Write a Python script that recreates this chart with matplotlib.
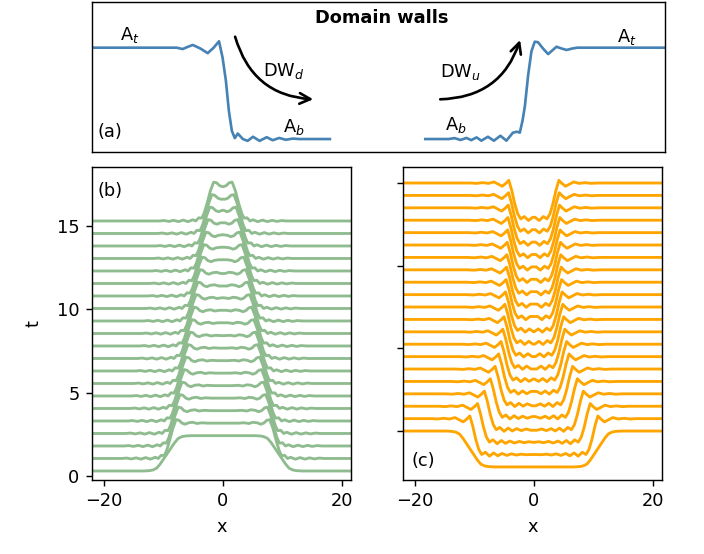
import matplotlib.pyplot as plt
from matplotlib.patches import FancyArrowPatch
import numpy as np

# ---------------- panel (a): the two fronts ----------------
# offset from the wall centre (x units) and level (0 = A_b, 1 = A_t)
dwd_off = [-10.0, -8.5, -7.5, -6.6, -5.8, -4.5, -3.3, -2.3, -1.4, -0.8, -0.25, 0.25,
           0.75, 1.25, 1.75, 2.6, 3.4, 4.3, 5.4, 6.6, 7.6, 8.7, 9.8, 11.0, 12.0]
dwd_val = [1.0, 1.0, 0.985, 1.01, 1.03, 0.99, 0.94, 1.0, 1.07, 0.89, 0.64, 0.31,
           0.09, 0.01, 0.06, 0.0, -0.02, 0.025, -0.02, 0.02, -0.013, 0.012, -0.008, 0.005, 0.0]
dwu_off = [-13.0, -12.0, -11.0, -10.0, -9.2, -8.3, -7.5, -6.4, -5.4, -4.3, -3.3, -2.2,
           -1.5, -1.05, -0.6, -0.2, 0.35, 0.9, 1.45, 2.0, 2.85, 3.7, 4.4, 5.1, 6.0,
           6.8, 7.7, 8.6, 10.0]
dwu_val = [0.0, 0.01, -0.01, 0.012, -0.012, 0.018, -0.018, 0.025, -0.018, 0.036, -0.018, 0.07,
           0.08, 0.07, 0.2, 0.36, 0.70, 0.96, 1.065, 1.06, 0.99, 0.93, 0.97, 1.01, 0.99,
           0.975, 0.99, 1.0, 1.0]
a_xmax = 96.1
dwd_pos, dwd_end = 22.7, 39.9
dwu_start, dwu_pos = 55.9, 72.8

# ---------------- panels (b) and (c) ----------------
# initial (t = 0) wall, 0 = outside level, 1 = inside level
smooth_off = [-4.0, -3.0, -2.4, -1.8, -1.2, -0.6, 0.0, 0.6, 1.2, 1.8, 2.4, 3.0, 4.0]
smooth_val = [0.0, 0.01, 0.03, 0.08, 0.2, 0.35, 0.5, 0.65, 0.8, 0.92, 0.97, 0.99, 1.0]

# green wall (low outside -> high inside), offset positive inward
b_off = [-8.0, -7.2, -6.4, -5.6, -4.8, -4.0, -3.2, -2.4, -1.9, -1.4, -0.9, -0.5, 0.0,
         0.55, 1.1, 1.6, 2.1, 2.6, 3.2, 3.9, 4.6, 5.4, 6.4]
b_val = [0.0, 0.012, -0.012, 0.018, -0.018, 0.025, -0.02, 0.035, 0.0, 0.09, 0.08, 0.22, 0.5,
         0.85, 1.1, 1.08, 1.0, 0.97, 1.01, 1.025, 0.99, 1.01, 1.0]

# orange wall (1 = outside level), offset positive inward
c_off = [-7.5, -6.4, -5.4, -4.4, -3.5, -2.8, -2.1, -1.5, -1.0, -0.5, 0.0, 0.5, 1.0,
         1.6, 2.3, 3.0, 3.7, 4.4, 5.2, 6.0, 6.8, 7.6, 8.4, 9.3]
c_val = [1.0, 0.99, 1.01, 0.99, 1.03, 0.97, 0.91, 0.99, 1.075, 0.79, 0.42, 0.14, 0.0,
         0.065, -0.045, 0.045, -0.035, 0.03, -0.025, 0.02, -0.015, 0.01, -0.005, 0.0]

t_step = 0.75
b_base, b_jump = 0.3, 2.12
c_jump = 2.17
# half distance between the two walls for each time step
b_wall = [9.3, 8.95, 8.6, 8.3, 7.95, 7.6, 7.3, 6.95, 6.6, 6.3, 5.95, 5.6, 5.3,
          4.95, 4.6, 4.3, 3.95, 3.6, 3.3, 2.95, 2.65]
c_wall = [10.7, 9.74, 8.45, 7.3, 6.3, 5.5, 4.9, 4.5, 4.2, 4.0, 3.85, 3.75, 3.65,
          3.58, 3.52, 3.46, 3.4, 3.35, 3.3, 3.25, 3.2]

XMIN = -22.5


def sym_curve(off, val, w):
    """left wall at -w, mirrored about x = 0"""
    x = -w + np.asarray(off, dtype=float)
    v = np.asarray(val, dtype=float)
    keep = x < 0
    x = np.concatenate([[XMIN], x[keep]])
    v = np.concatenate([[val[0]], v[keep]])
    return np.concatenate([x, -x[::-1]]), np.concatenate([v, v[::-1]])


def main():
    fig = plt.figure(figsize=(5.5, 4.328125), dpi=128)
    plt.rcParams['font.size'] = 10

    # (a)
    ax = fig.add_axes([0.1307, 0.7256, 0.8139, 0.2708])
    xl = np.concatenate([[0.0], dwd_pos + np.asarray(dwd_off), [dwd_end]])
    yl = np.concatenate([[1.0], dwd_val, [0.0]])
    xr = np.concatenate([[dwu_start], dwu_pos + np.asarray(dwu_off), [a_xmax]])
    yr = np.concatenate([[0.0], dwu_val, [1.0]])
    ax.plot(xl, yl, color='steelblue', lw=1.5)
    ax.plot(xr, yr, color='steelblue', lw=1.5)
    ax.set_xlim(0, a_xmax)
    ax.set_ylim(-0.142, 1.50)
    ax.set_xticks([])
    ax.set_yticks([])
    ax.text(0.506, 0.893, 'Domain walls', transform=ax.transAxes, ha='center',
            va='center', fontweight='bold')
    ax.text(0.009, 0.133, '(a)', transform=ax.transAxes, ha='left', va='center')
    ax.text(4.7, 1.084, 'A$_t$', ha='left', va='baseline')
    ax.text(28.7, 0.69, 'DW$_d$', ha='left', va='baseline')
    ax.text(32.0, 0.08, 'A$_b$', ha='left', va='baseline')
    ax.text(58.4, 0.68, 'DW$_u$', ha='left', va='baseline')
    ax.text(59.2, 0.1, 'A$_b$', ha='left', va='baseline')
    ax.text(88.1, 1.066, 'A$_t$', ha='left', va='baseline')
    ax.add_patch(FancyArrowPatch((24.0, 1.12), (37.1, 0.435), arrowstyle='->',
                                 connectionstyle='arc3,rad=0.35', mutation_scale=15,
                                 lw=1.5, color='k', shrinkA=0, shrinkB=0))
    ax.add_patch(FancyArrowPatch((58.4, 0.435), (71.8, 1.084), arrowstyle='->',
                                 connectionstyle='arc3,rad=0.35', mutation_scale=15,
                                 lw=1.5, color='k', shrinkA=0, shrinkB=0))

    # (b)
    axb = fig.add_axes([0.1307, 0.1336, 0.368, 0.565])
    for i, w in enumerate(b_wall):
        t = t_step * i
        if i == 0:
            x, v = sym_curve(smooth_off, smooth_val, w)
        else:
            x, v = sym_curve(b_off, b_val, w)
        axb.plot(x, t + b_base + b_jump * v, color='darkseagreen', lw=1.6)
    axb.set_xlim(-21.95, 21.5)
    axb.set_ylim(-0.24, 18.54)
    axb.set_xticks([-20, 0, 20])
    axb.set_yticks([0, 5, 10, 15])
    axb.set_xlabel('x')
    axb.set_ylabel('t', labelpad=8)
    axb.text(0.023, 0.922, '(b)', transform=axb.transAxes, ha='left', va='center')

    # (c)
    axc = fig.add_axes([0.5724, 0.1336, 0.368, 0.565])
    for i, w in enumerate(c_wall):
        t = t_step * i
        if i == 0:
            x, v = sym_curve(smooth_off, smooth_val, w)
            y = t - c_jump * v
        else:
            x, v = sym_curve(c_off, c_val, w)
            y = t - c_jump * (1 - v)
        axc.plot(x, y, color='orange', lw=1.6)
    axc.set_xlim(-21.95, 21.5)
    axc.set_ylim(-2.96, 15.97)
    axc.set_xticks([-20, 0, 20])
    axc.set_yticks([0, 5, 10, 15])
    axc.set_yticklabels([])
    axc.set_xlabel('x')
    axc.text(0.033, 0.061, '(c)', transform=axc.transAxes, ha='left', va='center')

    fig.savefig('out.png', dpi=128)


if __name__ == "__main__":
    main()
